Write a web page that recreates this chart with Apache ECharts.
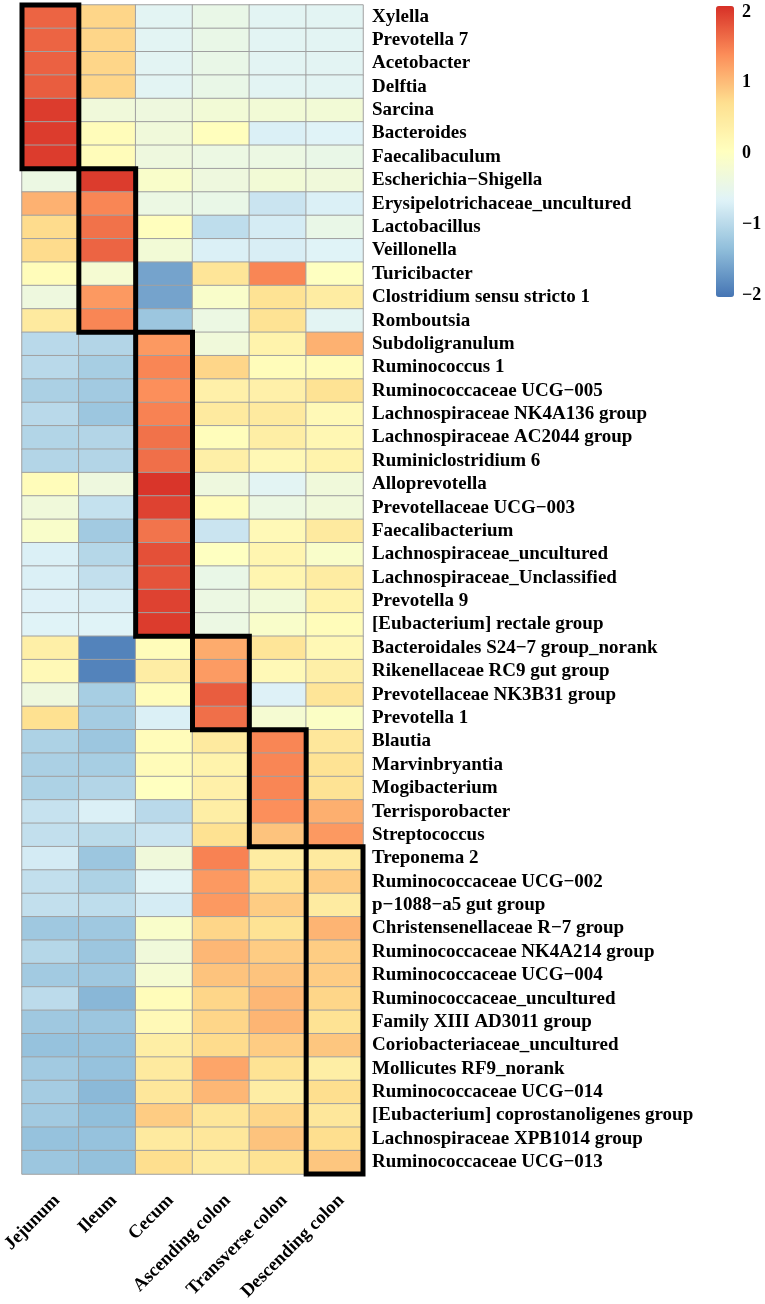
<!DOCTYPE html>
<html>
<head>
<meta charset="utf-8">
<script src="https://cdn.jsdelivr.net/npm/echarts@6/dist/echarts.min.js"></script>
<style>
  html, body { margin: 0; padding: 0; background: #fff; }
  #main { width: 765px; height: 1304px; }
</style>
</head>
<body>
<div id="main"></div>
<script>
// 列（肠段）
var segments = ['Jejunum', 'Ileum', 'Cecum', 'Ascending colon', 'Transverse colon', 'Descending colon'];

// 行（菌属）
var genera = [
    'Xylella', 'Prevotella 7', 'Acetobacter', 'Delftia', 'Sarcina', 'Bacteroides', 'Faecalibaculum',
    'Escherichia\u2212Shigella', 'Erysipelotrichaceae_uncultured', 'Lactobacillus', 'Veillonella',
    'Turicibacter', 'Clostridium sensu stricto 1', 'Romboutsia', 'Subdoligranulum', 'Ruminococcus 1',
    'Ruminococcaceae UCG\u2212005', 'Lachnospiraceae NK4A136 group', 'Lachnospiraceae AC2044 group',
    'Ruminiclostridium 6', 'Alloprevotella', 'Prevotellaceae UCG\u2212003', 'Faecalibacterium',
    'Lachnospiraceae_uncultured', 'Lachnospiraceae_Unclassified', 'Prevotella 9',
    '[Eubacterium] rectale group', 'Bacteroidales S24\u22127 group_norank', 'Rikenellaceae RC9 gut group',
    'Prevotellaceae NK3B31 group', 'Prevotella 1', 'Blautia', 'Marvinbryantia', 'Mogibacterium',
    'Terrisporobacter', 'Streptococcus', 'Treponema 2', 'Ruminococcaceae UCG\u2212002',
    'p\u22121088\u2212a5 gut group', 'Christensenellaceae R\u22127 group', 'Ruminococcaceae NK4A214 group',
    'Ruminococcaceae UCG\u2212004', 'Ruminococcaceae_uncultured', 'Family XIII AD3011 group',
    'Coriobacteriaceae_uncultured', 'Mollicutes RF9_norank', 'Ruminococcaceae UCG\u2212014',
    '[Eubacterium] coprostanoligenes group', 'Lachnospiraceae XPB1014 group', 'Ruminococcaceae UCG\u2212013'
];

// z-score，每列一个数组，顺序同 genera
var jejunum = [1.7, 1.7, 1.72, 1.75, 2.0, 2.0, 2.0, -0.4, 1.1, 0.75, 0.75, 0.1, -0.35, 0.5,
    -1.0, -1.0, -1.12, -1.0, -1.06, -1.05, 0.1, -0.3, -0.1, -0.7, -0.7, -0.68, -0.65,
    0.38, 0.15, -0.35, 0.7, -1.1, -1.12, -1.1, -0.88, -0.92,
    -0.76, -0.92, -0.92, -1.22, -1.03, -1.2, -0.97, -1.22, -1.3, -1.2, -1.17, -1.2, -1.3, -1.25];
var ileum = [0.8, 0.8, 0.8, 0.8, -0.3, 0.1, 0.1, 2.0, 1.45, 1.6, 1.7, -0.2, 1.3, 1.45,
    -1.05, -1.15, -1.2, -1.25, -1.05, -1.05, -0.35, -0.9, -1.2, -1.03, -0.92, -0.72, -0.65,
    -1.9, -1.9, -1.15, -1.17, -1.25, -1.15, -1.05, -0.7, -0.98,
    -1.25, -1.1, -0.95, -1.22, -1.25, -1.22, -1.42, -1.25, -1.3, -1.3, -1.4, -1.34, -1.3, -1.32];
var cecum = [-0.6, -0.6, -0.6, -0.6, -0.35, -0.3, -0.35, -0.1, -0.4, 0.05, -0.25, -1.6, -1.6, -1.25,
    1.3, 1.45, 1.38, 1.48, 1.6, 1.62, 2.05, 1.95, 1.58, 1.85, 1.83, 1.95, 2.0,
    0.1, 0.42, 0.1, -0.7, 0.1, 0.12, 0.02, -1.0, -0.85,
    -0.3, -0.62, -0.75, -0.1, -0.3, -0.2, 0.1, 0.15, 0.4, 0.5, 0.55, 0.88, 0.5, 0.72];
var ascending = [-0.45, -0.45, -0.45, -0.45, -0.25, 0.05, -0.4, -0.35, -0.45, -0.95, -0.7, 0.6, -0.1, -0.4,
    -0.3, 0.8, 0.35, 0.5, 0.08, 0.38, -0.35, 0.1, -0.85, 0.0, -0.45, -0.4, -0.4,
    1.15, 1.28, 1.75, 1.62, 0.5, 0.3, 0.35, 0.4, 0.68,
    1.48, 1.3, 1.3, 0.8, 1.05, 0.95, 0.8, 0.8, 0.75, 1.2, 1.05, 0.58, 0.55, 0.47];
var transverse = [-0.6, -0.6, -0.6, -0.6, -0.25, -0.7, -0.4, -0.25, -0.85, -0.75, -0.72, 1.45, 0.65, 0.65,
    0.3, 0.1, 0.35, 0.5, 0.4, 0.18, -0.6, -0.4, 0.15, 0.25, 0.25, -0.28, -0.1,
    0.6, 0.15, -0.68, -0.2, 1.45, 1.45, 1.45, 1.38, 0.95,
    0.45, 0.65, 0.88, 0.65, 0.88, 0.95, 1.05, 1.07, 0.88, 0.65, 0.42, 0.8, 0.95, 0.65];
var descending = [-0.6, -0.6, -0.6, -0.6, -0.25, -0.65, -0.45, -0.3, -0.7, -0.45, -0.65, 0.0, 0.45, -0.6,
    1.1, 0.1, 0.65, 0.15, 0.2, 0.3, -0.3, -0.3, 0.5, -0.1, 0.45, 0.3, 0.1,
    0.18, 0.38, 0.6, -0.05, 0.55, 0.65, 0.65, 1.12, 1.3,
    0.5, 0.88, 0.47, 1.08, 0.87, 0.88, 0.8, 0.65, 0.93, 0.4, 0.72, 0.55, 0.72, 0.93];

// 黑框：[列, 起始行, 结束行]
var boxes = [[0, 0, 6], [1, 7, 13], [2, 14, 26], [3, 27, 30], [4, 31, 35], [5, 36, 49]];

// 色标刻度
var scaleTicks = [-2, -1, 0, 1, 2];

var columns = [jejunum, ileum, cecum, ascending, transverse, descending];
var heatData = [];
columns.forEach(function (col, c) {
    col.forEach(function (v, r) {
        heatData.push([c, r, v]);
    });
});

var font = 'Liberation Serif';
var chart = echarts.init(document.getElementById('main'));

var option = {
    backgroundColor: '#fff',
    animation: false,
    grid: [
        { left: 22, top: 5, width: 341, height: 1169, outerBoundsMode: 'none' },
        { left: 716, top: 12, width: 18, height: 283, outerBoundsMode: 'none' }
    ],
    xAxis: [{
        type: 'category',
        data: segments,
        axisLine: { show: false },
        axisTick: { show: false },
        splitLine: { show: false },
        axisLabel: {
            interval: 0,
            rotate: 45,
            margin: 17,
            verticalAlign: 'top',
            fontFamily: font,
            fontWeight: 'bold',
            fontSize: 18.5,
            color: '#000'
        }
    }, {
        gridIndex: 1,
        type: 'value',
        show: false
    }],
    yAxis: [{
        type: 'category',
        data: genera,
        inverse: true,
        position: 'right',
        axisLine: { show: false },
        axisTick: { show: false },
        splitLine: { show: false },
        axisLabel: {
            interval: 0,
            margin: 9,
            fontFamily: font,
            fontWeight: 'bold',
            fontSize: 19,
            color: '#000'
        }
    }, {
        gridIndex: 1,
        type: 'value',
        min: scaleTicks[0],
        max: scaleTicks[scaleTicks.length - 1],
        interval: 1,
        position: 'right',
        axisLine: { show: false },
        axisTick: { show: false },
        splitLine: { show: false },
        axisLabel: {
            margin: 8,
            fontFamily: font,
            fontWeight: 'bold',
            fontSize: 18,
            color: '#000',
            formatter: function (v) {
                return v < 0 ? '\u2212' + Math.abs(v) : String(v);
            }
        }
    }],
    visualMap: {
        type: 'continuous',
        min: -2.03,
        max: 2.085,
        seriesIndex: 0,
        calculable: false,
        orient: 'vertical',
        left: 701,
        top: -9,
        itemWidth: 18,
        itemHeight: 291,
        text: null,
        inRange: {
            color: ['#4575B4', '#91BFDB', '#E0F3F8', '#FFFFBF', '#FEE090', '#FC8D59', '#D73027']
        }
    },
    series: [{
        type: 'heatmap',
        data: heatData,
        itemStyle: { borderColor: '#A0A0A0', borderWidth: 1 },
        emphasis: { disabled: true }
    }, {
        type: 'custom',
        data: boxes,
        z: 10,
        silent: true,
        renderItem: function (params, api) {
            var p = api.coord([api.value(0), api.value(1)]);
            var size = api.size([1, 1]);
            var n = api.value(2) - api.value(1) + 1;
            return {
                type: 'rect',
                shape: {
                    x: p[0] - size[0] / 2,
                    y: p[1] - size[1] / 2,
                    width: size[0],
                    height: size[1] * n
                },
                style: { fill: null, stroke: '#000', lineWidth: 5 }
            };
        }
    }]
};

chart.setOption(option);
</script>
</body>
</html>
